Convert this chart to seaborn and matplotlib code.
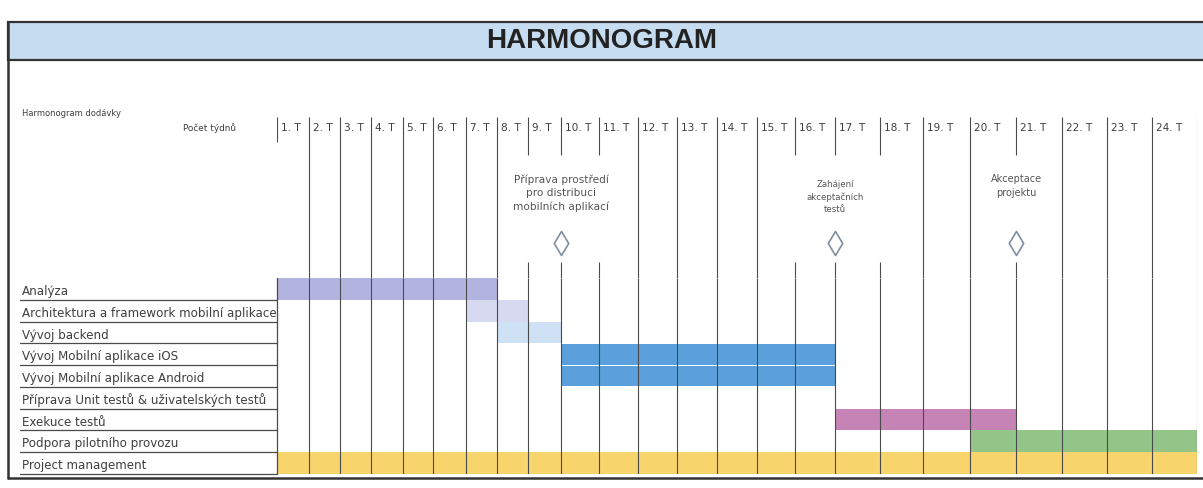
import numpy as np
import pandas as pd
import matplotlib
matplotlib.use("Agg")
import matplotlib.pyplot as plt
import matplotlib.transforms as mtransforms
from matplotlib.patches import Rectangle
from matplotlib.lines import Line2D
import seaborn as sns

# ---------------- data ----------------
tasks = ["Analýza",
         "Architektura a framework mobilní aplikace",
         "Vývoj backend",
         "Vývoj Mobilní aplikace iOS",
         "Vývoj Mobilní aplikace Android",
         "Příprava Unit testů & uživatelských testů",
         "Exekuce testů",
         "Podpora pilotního provozu",
         "Project management"]
task_start = [0, 6, 7, 9, 9, np.nan, 16, 19, 0]   # week index where bar starts
task_end = [7, 8, 9, 16, 16, np.nan, 20, 24, 24]  # week index where bar ends
task_colors = ["#b3b3e0", "#d7d9f1", "#cfe1f4", "#5b9fdc", "#5b9fdc",
               "#ffffff", "#c683b5", "#93c588", "#f7d56c"]

week_labels = ["1. T", "2. T", "3. T", "4. T", "5. T", "6. T", "7. T", "8. T",
               "9. T", "10. T", "11. T", "12. T", "13. T", "14. T", "15. T",
               "16. T", "17. T", "18. T", "19. T", "20. T", "21. T", "22. T",
               "23. T", "24. T"]

milestone_week = [9, 16, 20]
milestone_labels = ["Příprava prostředí\npro distribuci\nmobilních aplikací",
                    "Zahájení\nakceptačních\ntestů",
                    "Akceptace\nprojektu"]

title = "HARMONOGRAM"
header_left = "Harmonogram dodávky"
header_weeks = "Počet týdnů"

# ---------------- layout (column widths of the original sheet, px) ----------------
col_edges_px = [277, 309, 340, 371, 403, 433, 466, 497, 528, 561, 599, 638, 677,
                717, 757, 795, 835, 880, 923, 970, 1016, 1062, 1107, 1152, 1197]
milestone_text_y = [193, 197, 186]
milestone_font = [7.6, 6.2, 7.0]

W, H = 1203, 488
sns.set_theme(style="white")
plt.rcParams["font.family"] = ["DejaVu Sans"]

fig = plt.figure(figsize=(W / 100, H / 100), dpi=100)
fig.patch.set_facecolor("white")

def fx(px):
    return px / W

def fy(py):
    return 1 - py / H

n_weeks = len(week_labels)
edge_idx = np.arange(n_weeks + 1, dtype=float)
ext_w = np.concatenate([[-1000.0], edge_idx, [n_weeks + 1000.0]])
ep = np.array(col_edges_px, dtype=float)
s0 = (ep[1] - ep[0])
s1 = (ep[-1] - ep[-2])
ext_p = np.concatenate([[ep[0] - 1000 * s0], ep, [ep[-1] + 1000 * s1]])

def fwd(x):
    return np.interp(x, ext_w, ext_p)

def inv(p):
    return np.interp(p, ext_p, ext_w)

grid_col = "#4a4a4a"
text_col = "#3f3f3f"

# ---------------- Gantt axes ----------------
g_top, g_bot = 278, 474
ax = fig.add_axes([fx(col_edges_px[0]), fy(g_bot),
                   fx(col_edges_px[-1]) - fx(col_edges_px[0]), (g_bot - g_top) / H])
ax.set_xscale("function", functions=(fwd, inv))
ax.set_xlim(0, n_weeks)
ax.set_ylim(len(tasks) - 0.5, -0.5)
ax.axis("off")

df = pd.DataFrame({"task": tasks, "start": task_start, "end": task_end,
                   "color": task_colors})
df["row"] = np.arange(len(df))
for _, r in df.dropna().iterrows():
    h = 0.96 if "Mobilní" in r["task"] else 1.0
    ax.barh(r["row"], r["end"] - r["start"], left=r["start"], height=h,
            color=r["color"], edgecolor="none", zorder=1)

ax.vlines(edge_idx[1:], -0.5, len(tasks) - 0.5, color=grid_col, lw=0.8, zorder=3)

# row labels with underlines (left table)
blend = mtransforms.blended_transform_factory(fig.transFigure, ax.transData)
for i, t in enumerate(tasks):
    ax.text(fx(22), i + 0.42, t, transform=blend, ha="left", va="bottom",
            fontsize=8.6, color=text_col, clip_on=False)
    ax.add_line(Line2D([fx(20), fx(col_edges_px[0])], [i + 0.5, i + 0.5],
                       transform=blend, color=grid_col, lw=0.9, clip_on=False))
ax.add_line(Line2D([fx(col_edges_px[0]), fx(col_edges_px[0])],
                   [-0.5, len(tasks) - 0.5], transform=blend,
                   color=grid_col, lw=0.9, clip_on=False))

# ---------------- header axes ----------------
h_top = 105
axh = fig.add_axes([fx(col_edges_px[0]), fy(g_top),
                    fx(col_edges_px[-1]) - fx(col_edges_px[0]), (g_top - h_top) / H],
                   sharex=ax)
axh.set_ylim(g_top, h_top)
axh.axis("off")

broken = {8, 9, 10, 15, 16, 17, 20}
for i in range(n_weeks + 1):
    if i == 0:
        axh.vlines(i, 117, 142, color=grid_col, lw=0.8)
    elif i in broken:
        axh.vlines(i, 117, 155, color=grid_col, lw=0.8)
        axh.vlines(i, 262, g_top, color=grid_col, lw=0.8)
    else:
        axh.vlines(i, 117, g_top, color=grid_col, lw=0.8)

for i, lab in enumerate(week_labels):
    axh.annotate(lab, xy=(i, 128), xytext=(4, 0), textcoords="offset pixels",
                 ha="left", va="center", fontsize=7.6, color=text_col)

for wk, lab, ty, fs in zip(milestone_week, milestone_labels,
                           milestone_text_y, milestone_font):
    axh.text(wk, ty, lab, ha="center", va="center", fontsize=fs,
             color="#555555", linespacing=1.4)

sns.scatterplot(x=milestone_week, y=[243] * len(milestone_week), ax=axh,
                marker="d", s=150, color="white", edgecolor="#7f8ea0",
                linewidth=1.2, zorder=5, legend=False)
axh.set_xlim(0, n_weeks)
axh.set_ylim(g_top, h_top)
axh.axis("off")

fig.text(fx(22), fy(113), header_left, fontsize=6.0, color=text_col,
         ha="left", va="center")
fig.text(fx(236), fy(128), header_weeks, fontsize=6.4, color=text_col,
         ha="right", va="center")

# ---------------- title band & frame ----------------
fig.patches.append(Rectangle((fx(8), fy(60)), fx(1210) - fx(8), (60 - 22) / H,
                             transform=fig.transFigure, facecolor="#c6dcf0",
                             edgecolor="#333333", lw=1.6, zorder=0))
fig.text(fx(602), fy(41), title, fontsize=20, fontweight="bold",
         family="Liberation Sans", color="#222222", ha="center", va="center")
fig.lines.append(Line2D([fx(8), fx(8)], [fy(22), fy(478)],
                        transform=fig.transFigure, color="#333333", lw=1.8))
fig.lines.append(Line2D([fx(8), fx(1203)], [fy(478), fy(478)],
                        transform=fig.transFigure, color="#333333", lw=1.8))

fig.savefig("out.png", dpi=100, facecolor="white")
